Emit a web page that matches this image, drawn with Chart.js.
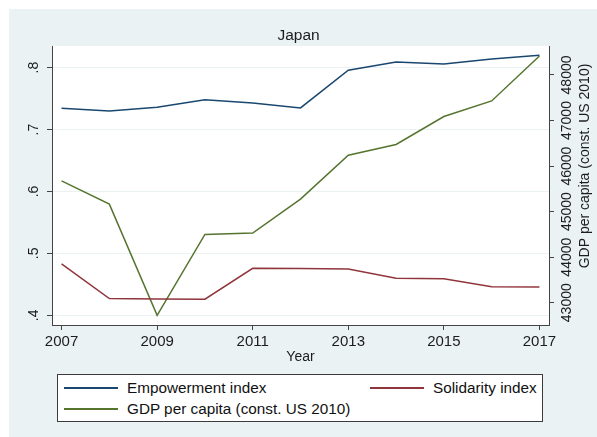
<!DOCTYPE html>
<html>
<head>
<meta charset="utf-8">
<script src="https://cdn.jsdelivr.net/npm/chart.js@4.4.0/dist/chart.umd.min.js"></script>
<style>
    html, body { margin: 0; padding: 0; background: #fff; }
    #wrap { position: relative; width: 597px; height: 437px; }
    #legend {
        position: absolute; left: 57px; top: 374px; width: 484px; height: 46px;
        border: 1px solid #3c3c3c; background: #fff;
        font: 15.3px "Liberation Sans", Arial, sans-serif; color: #111;
    }
    .item { position: absolute; display: flex; align-items: center; height: 16px; line-height: 16px; white-space: nowrap; }
    .item .ln { display: inline-block; width: 54px; height: 2px; margin-right: 9px; }
</style>
</head>
<body>
<div id="wrap">
    <canvas id="chart" width="597" height="437"></canvas>
    <div id="legend"></div>
</div>
<script>
// Data
const years = [2007, 2008, 2009, 2010, 2011, 2012, 2013, 2014, 2015, 2016, 2017];
const empowerment = [0.7345, 0.730, 0.736, 0.748, 0.743, 0.735, 0.796, 0.809, 0.806, 0.814, 0.820];
const solidarity = [0.483, 0.427, 0.4265, 0.426, 0.476, 0.4758, 0.475, 0.460, 0.459, 0.446, 0.4456];
const gdpPerCapita = [45675, 45164, 42724, 44500, 44529, 45274, 46239, 46474, 47088, 47430, 48417];

const xTicks = [2007, 2009, 2011, 2013, 2015, 2017];
const leftTicks = [0.4, 0.5, 0.6, 0.7, 0.8];
const rightTicks = [43000, 44000, 45000, 46000, 47000, 48000];

const seriesNames = ['Empowerment index', 'Solidarity index', 'GDP per capita (const. US 2010)'];
const seriesColors = ['#1a476f', '#90353b', '#55752f'];
const rightTitle = 'GDP per capita (const. US 2010)';

const FONT = '"Liberation Sans", Arial, sans-serif';
const BG = '#eaf2f3';
const INK = '#1c1c1c';

const toPoints = vals => vals.map((v, i) => ({ x: years[i], y: v }));

// stata-like backdrop: white margin, blue-gray region, white plot area
const backdrop = {
    id: 'backdrop',
    beforeDraw(chart) {
        const c = chart.ctx, a = chart.chartArea;
        c.save();
        c.fillStyle = '#fff';
        c.fillRect(0, 0, chart.width, chart.height);
        c.fillStyle = BG;
        c.fillRect(9, 9, chart.width - 9, chart.height - 9);
        c.fillStyle = '#fff';
        c.fillRect(a.left, a.top, a.right - a.left, a.bottom - a.top);
        c.restore();
    }
};

// right axis title reads bottom-to-top, chart.js would rotate it the other way
const rightAxisTitle = {
    id: 'rightAxisTitle',
    afterDraw(chart) {
        const s = chart.scales.y2, c = chart.ctx;
        c.save();
        c.translate(s.right - 12, 166);
        c.rotate(-Math.PI / 2);
        c.font = '14px ' + FONT;
        c.fillStyle = INK;
        c.textAlign = 'center';
        c.textBaseline = 'middle';
        c.fillText(rightTitle, 0, 0);
        c.restore();
    }
};

const lineDs = (i, data, axis) => ({
    label: seriesNames[i],
    data: toPoints(data),
    yAxisID: axis,
    borderColor: seriesColors[i],
    backgroundColor: seriesColors[i],
    borderWidth: 1.5,
    pointRadius: 0,
    tension: 0,
    fill: false
});

new Chart(document.getElementById('chart'), {
    type: 'line',
    data: {
        datasets: [
            lineDs(0, empowerment, 'y'),
            lineDs(1, solidarity, 'y'),
            lineDs(2, gdpPerCapita, 'y2')
        ]
    },
    options: {
        responsive: false,
        animation: false,
        layout: { padding: { left: 0, right: 0, top: 0, bottom: 71.6 } },
        plugins: {
            legend: { display: false },
            tooltip: { enabled: false },
            title: {
                display: true,
                text: 'Japan',
                color: INK,
                font: { family: FONT, size: 15.5, weight: 'normal' },
                padding: { top: 26, bottom: 1.4 }
            }
        },
        scales: {
            x: {
                type: 'linear',
                min: 2006.8,
                max: 2017.2,
                afterBuildTicks: s => { s.ticks = xTicks.map(v => ({ value: v })); },
                afterFit: s => { s.height = 40.4; },
                grid: { drawOnChartArea: false, tickLength: 5, tickColor: '#444' },
                border: { color: '#444', width: 1 },
                ticks: {
                    color: INK, padding: 3,
                    font: { family: FONT, size: 15 },
                    maxRotation: 0, minRotation: 0,
                    callback: v => String(v)
                },
                title: {
                    display: true, text: 'Year', color: INK,
                    font: { family: FONT, size: 14 },
                    padding: { top: 0, bottom: 0 }
                }
            },
            y: {
                position: 'left',
                min: 0.3844,
                max: 0.835,
                afterBuildTicks: s => { s.ticks = leftTicks.map(v => ({ value: v })); },
                afterFit: s => { s.width = 52; },
                grid: { color: BG, lineWidth: 1, tickLength: 5, tickColor: '#444' },
                border: { color: '#444', width: 1 },
                ticks: {
                    color: INK, padding: 7, crossAlign: 'center',
                    font: { family: FONT, size: 14 },
                    minRotation: 90, maxRotation: 90,
                    callback: v => v.toFixed(1).replace(/^0/, '')
                }
            },
            y2: {
                position: 'right',
                min: 42511,
                max: 48636,
                afterBuildTicks: s => { s.ticks = rightTicks.map(v => ({ value: v })); },
                afterFit: s => { s.width = 48; },
                grid: { drawOnChartArea: false, tickLength: 5, tickColor: '#444' },
                border: { color: '#444', width: 1 },
                ticks: {
                    color: INK, padding: -6.5, crossAlign: 'center',
                    font: { family: FONT, size: 14 },
                    minRotation: 90, maxRotation: 90,
                    callback: v => String(v)
                }
            }
        }
    },
    plugins: [backdrop, rightAxisTitle]
});

// legend box: two columns, stata style
const legendPos = [[6, 4.7], [312, 4.7], [6, 26]];
document.getElementById('legend').innerHTML = seriesNames.map((name, i) =>
    `<div class="item" style="left:${legendPos[i][0]}px;top:${legendPos[i][1]}px;">` +
    `<span class="ln" style="background:${seriesColors[i]}"></span>${name}</div>`
).join('');
</script>
</body>
</html>
